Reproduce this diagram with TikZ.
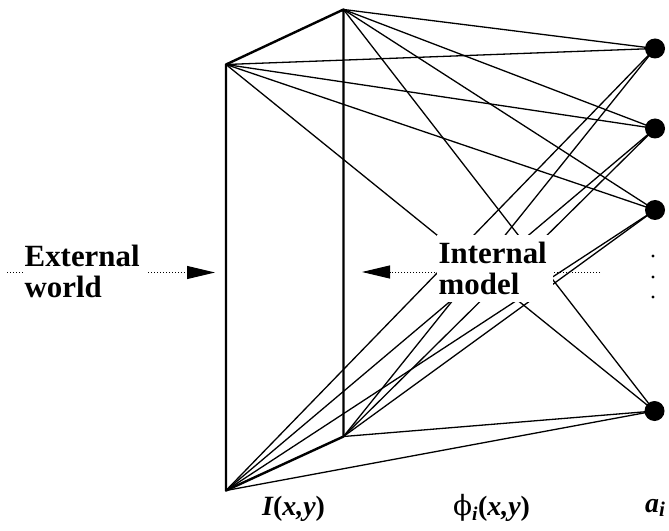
\documentclass[tikz,border=0pt]{standalone}
\usepackage{fontspec}
\setmainfont{Liberation Serif}
\newfontfamily\phifont{DejaVu Serif}
\usetikzlibrary{arrows.meta}
\begin{document}
\begin{tikzpicture}[x=1bp,y=-1bp,
  thinline/.style={line width=1.3bp},
  thickline/.style={line width=2.4bp, line join=round},
  unit/.style={circle, fill=black, minimum size=20bp, inner sep=0pt},
  smalldot/.style={circle, fill=black, minimum size=3.2bp, inner sep=0pt},
  dotline/.style={line width=1bp, dash pattern=on 1bp off 2bp},
  tip/.style={-{Triangle[length=28bp,width=13bp]}},
  bigtext/.style={font=\fontsize{31}{31}\selectfont\bfseries, align=left, fill=white, inner ysep=0pt},
  label/.style={font=\fontsize{28}{30}\selectfont, anchor=base west, inner sep=0pt}
]
\useasboundingbox (0,0) rectangle (669,531);
% corners of the image plane
\coordinate (A) at (226,64.5);
\coordinate (B) at (343.5,9.5);
\coordinate (C) at (226,490.5);
\coordinate (D) at (343.5,436.5);
% coefficient units
\node[unit] (c1) at (655,48.5) {};
\node[unit] (c2) at (655,128.5) {};
\node[unit] (c3) at (655,210) {};
\node[unit] (c4) at (654.5,411) {};
% connections
\foreach \c in {c1,c2,c3,c4}{
  \foreach \p in {A,B,C,D}{
    \draw[thinline] (\p) -- (\c.center);
  }
}
% frame
\draw[thickline] (C) -- (A) -- (B) -- (D) -- cycle;
% vertical dots
\node[smalldot] (d1) at (653,256) {};
\node[smalldot] (d2) at (653,277) {};
\node[smalldot] (d3) at (653,297) {};
% arrows
\coordinate (ew0) at (7,272.5);
\coordinate (ew1) at (215,272.5);
\draw[dotline, tip] (ew0) -- (ew1);
\coordinate (im0) at (600,272);
\coordinate (im1) at (362,272);
\draw[dotline, tip] (im0) -- (im1);
\node[bigtext, anchor=west, text width=120bp, inner xsep=2bp, minimum height=66bp] (ext) at (22.5,271) {External\\world};
\node[bigtext, anchor=west, text width=112bp, inner xsep=2bp, minimum height=67bp] (int) at (436.5,268.5) {Internal\\model};
% bottom labels
\node[label] (lI) at (262,515) {{\bfseries\itshape I}{\bfseries(}{\bfseries\itshape x,y}{\bfseries)}};
\node[label] (lphi) at (453,515) {{\phifont ϕ}\textsubscript{\bfseries\itshape i}{\bfseries(}{\bfseries\itshape x,y}{\bfseries)}};
\node[label] (la) at (645,512) {{\bfseries\itshape a\raisebox{-4bp}{\fontsize{21}{21}\selectfont i}}};
\end{tikzpicture}
\end{document}
